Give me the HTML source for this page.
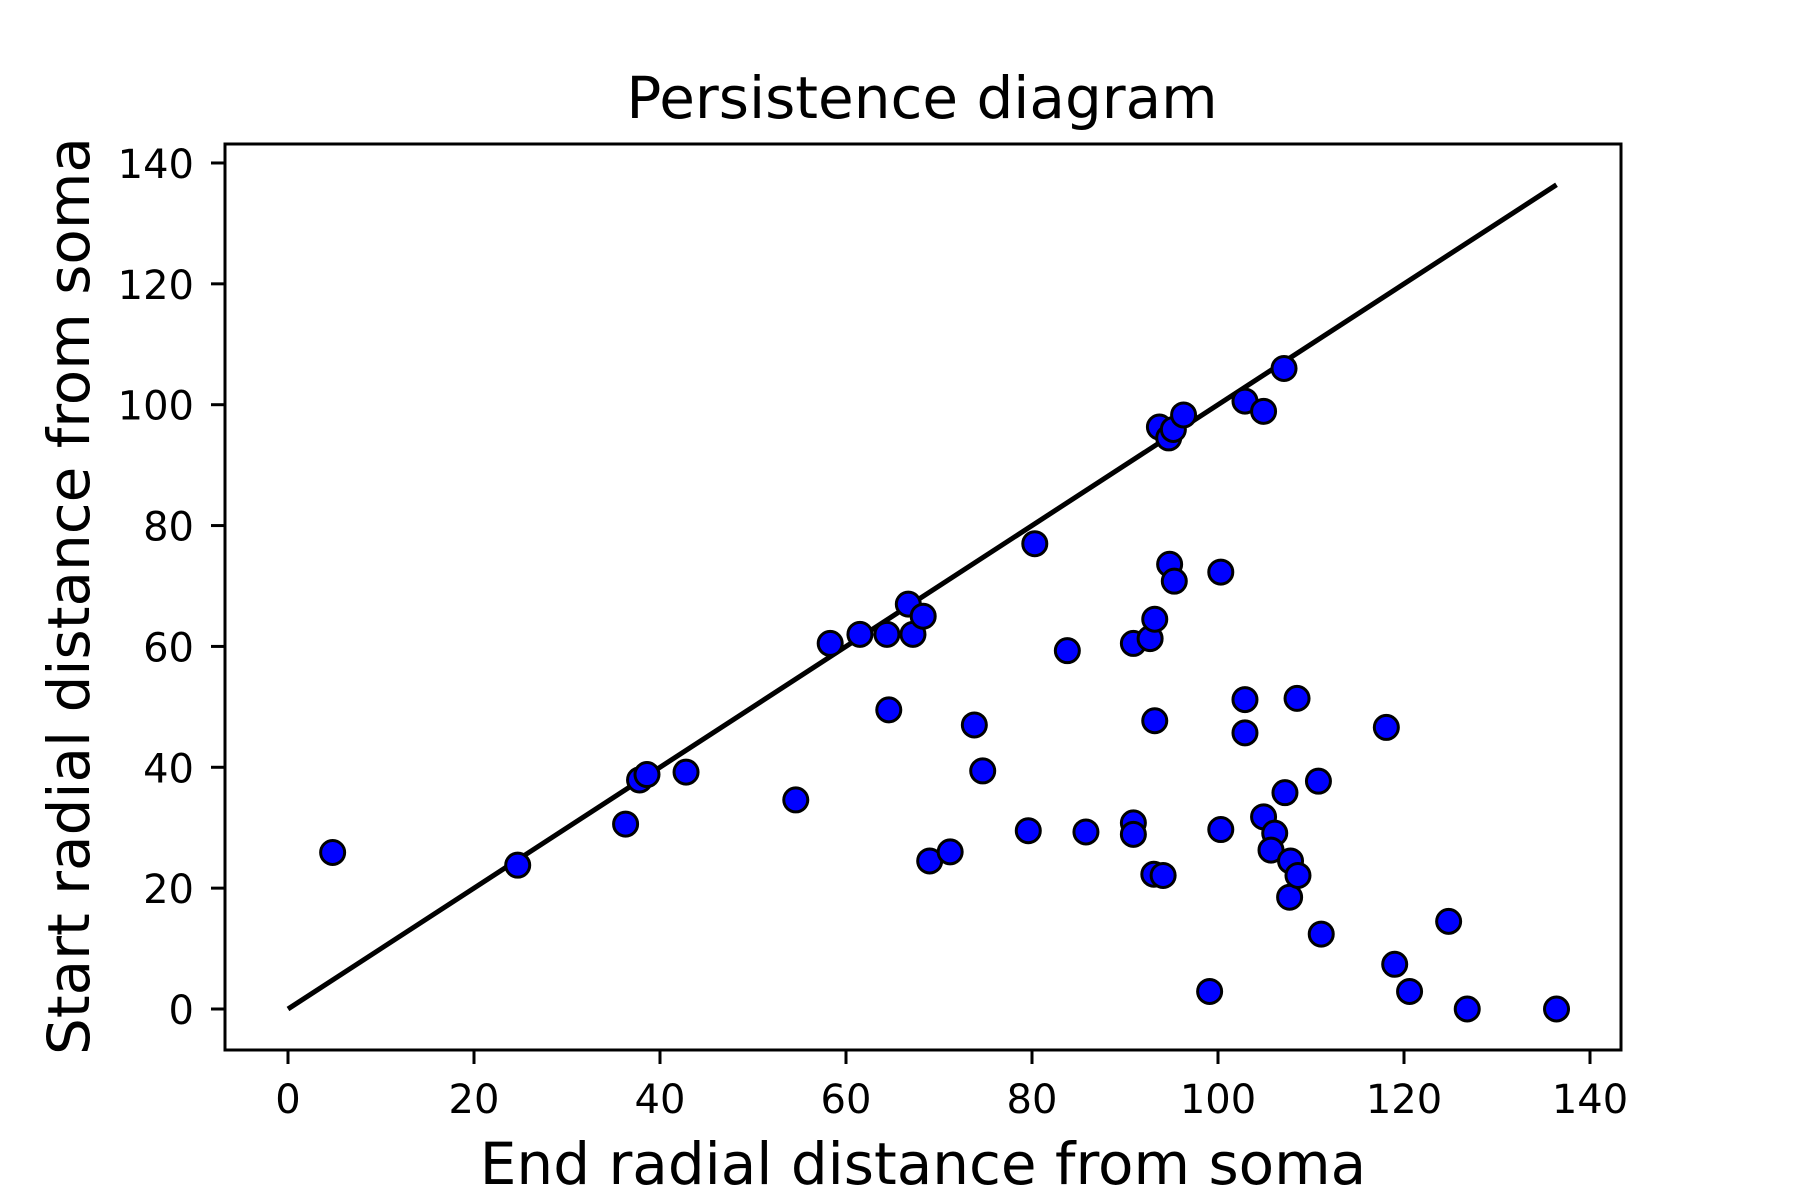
<!DOCTYPE html>
<html><head><meta charset="utf-8"><style>html,body{margin:0;padding:0;background:#fff}svg{display:block}text{font-family:"DejaVu Sans","Liberation Sans",sans-serif;fill:#000}</style></head>
<body>
<svg id="chart" width="1800" height="1200" viewBox="0 0 1800 1200" xmlns="http://www.w3.org/2000/svg">
<rect x="0" y="0" width="1800" height="1200" fill="#fff"/>
<text x="922" y="118" font-size="58" text-anchor="middle">Persistence diagram</text>
<text x="923" y="1184" font-size="58" text-anchor="middle">End radial distance from soma</text>
<text transform="translate(89,596) rotate(-90)" font-size="58" text-anchor="middle">Start radial distance from soma</text>
<g id="ticks"></g>
<g id="marks"></g>
<rect x="225" y="144" width="1396" height="906" fill="none" stroke="#000" stroke-width="3"/>
</svg>
<script>
const xTicks = [0,20,40,60,80,100,120,140];
const yTicks = [0,20,40,60,80,100,120,140];
const diagonal = [0,136.4];
const endDist = [4.8,24.7,36.3,37.8,38.6,42.8,54.6,58.3,61.5,64.4,64.6,66.7,67.2,68.3,69,71.2,73.8,74.7,79.6,80.3,83.8,85.8,90.9,90.9,90.9,92.7,93.2,93.2,93.1,94.1,93.7,94.7,95.2,96.3,94.8,95.3,99.1,100.3,100.3,102.9,102.9,102.9,104.9,104.9,106.1,105.7,107.1,107.2,107.8,107.7,108.6,108.5,110.8,111.1,118.1,119,120.6,124.8,126.8,136.4];
const startDist = [25.9,23.8,30.6,37.9,38.8,39.2,34.6,60.5,62,62,49.5,67,62,65,24.5,26,47,39.4,29.5,77,59.3,29.3,30.8,28.9,60.5,61.3,64.5,47.7,22.3,22.1,96.3,94.5,95.9,98.3,73.6,70.8,2.9,72.3,29.7,100.6,51.2,45.7,98.9,31.8,29.1,26.3,106,35.8,24.5,18.5,22.1,51.4,37.7,12.4,46.6,7.4,2.9,14.5,0,0];
const NS='http://www.w3.org/2000/svg';
function sx(v){return 288 + v*9.3;}
function sy(v){return 1009 - v*6.043;}
function mk(tag,attrs,parent){const e=document.createElementNS(NS,tag);for(const k in attrs)e.setAttribute(k,attrs[k]);parent.appendChild(e);return e;}
const tg=document.getElementById('ticks');
xTicks.forEach(t=>{
  const l=mk('line',{x1:sx(t),x2:sx(t),y1:1050,y2:1064,stroke:'#000','stroke-width':3},tg);
  
  
  const tx=mk('text',{x:sx(t),y:1113,'font-size':40,'text-anchor':'middle'},tg);
  tx.textContent=t;
  
  
});
yTicks.forEach(t=>{
  const l=mk('line',{x1:211,x2:225,y1:sy(t),y2:sy(t),stroke:'#000','stroke-width':3},tg);
  
  
  const tx=mk('text',{x:194,y:sy(t)+15,'font-size':40,'text-anchor':'end'},tg);
  tx.textContent=t;
  
  
});
const mg=document.getElementById('marks');
const dl=mk('line',{x1:sx(diagonal[0]),y1:sy(diagonal[0]),x2:sx(diagonal[1]),y2:sy(diagonal[1]),stroke:'#000','stroke-width':5},mg);


endDist.forEach((v,i)=>{
  const c=mk('circle',{cx:sx(v),cy:sy(startDist[i]),r:12,fill:'#0000ff',stroke:'#000','stroke-width':3},mg);
  
  
});
</script>
</body></html>
